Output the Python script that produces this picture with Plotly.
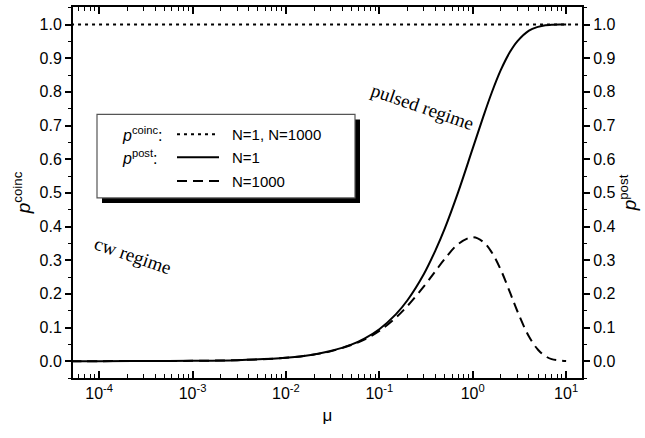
import plotly.graph_objects as go

# ---- data ----
mu = [5e-5, 1e-4, 3e-4, 1e-3, 3e-3, 1e-2, 0.02, 0.03, 0.05, 0.07, 0.1, 0.15, 0.2, 0.3,
      0.4, 0.5, 0.7, 1.0, 1.3, 1.6, 2.0, 2.5, 3.0, 4.0, 5.0, 6.0, 7.0, 8.5, 10.0]
p_post_n1 = [0.0, 0.0001, 0.0003, 0.001, 0.003, 0.010, 0.020, 0.030, 0.049, 0.068, 0.095,
             0.139, 0.181, 0.259, 0.330, 0.393, 0.503, 0.632, 0.727, 0.798, 0.865, 0.918,
             0.950, 0.982, 0.993, 0.998, 0.999, 1.0, 1.0]
p_post_n1000 = [0.0, 0.0001, 0.0003, 0.001, 0.003, 0.010, 0.020, 0.029, 0.048, 0.065, 0.090,
                0.129, 0.164, 0.222, 0.268, 0.303, 0.348, 0.368, 0.354, 0.323, 0.271, 0.205,
                0.149, 0.073, 0.034, 0.015, 0.006, 0.002, 0.0005]
coinc_mu = [5e-5, 15.0]
p_coinc = [1.0, 1.0]

x_tickvals = [1e-4, 1e-3, 1e-2, 1e-1, 1e0, 1e1]
x_ticktext = ["10<sup>-4</sup>", "10<sup>-3</sup>", "10<sup>-2</sup>",
              "10<sup>-1</sup>", "10<sup>0</sup>", "10<sup>1</sup>"]
y_tickvals = [0.0, 0.1, 0.2, 0.3, 0.4, 0.5, 0.6, 0.7, 0.8, 0.9, 1.0]
y_ticktext = ["0.0", "0.1", "0.2", "0.3", "0.4", "0.5", "0.6", "0.7", "0.8", "0.9", "1.0"]

# ---- layout geometry (pixels) ----
W, H = 645, 438
L, R, T, B = 73, 582, 5, 378

def px(x):
    return (x - L) / (R - L)

def py(y):
    return (B - y) / (B - T)

FONT = "Liberation Sans, Arial, sans-serif"
SERIF = "Liberation Serif, Times New Roman, serif"
DOT = "3px,4px"
DASH = "10px,6px"

fig = go.Figure()
fig.add_trace(go.Scatter(x=coinc_mu, y=p_coinc, mode="lines",
                         line=dict(color="black", width=2, dash=DOT), showlegend=False))
fig.add_trace(go.Scatter(x=mu, y=p_post_n1000, mode="lines", line_shape="spline",
                         line=dict(color="black", width=2, dash=DASH), showlegend=False))
fig.add_trace(go.Scatter(x=mu, y=p_post_n1, mode="lines", line_shape="spline",
                         line=dict(color="black", width=2), showlegend=False))
fig.add_trace(go.Scatter(x=coinc_mu, y=p_coinc, mode="lines", yaxis="y2",
                         line=dict(color="rgba(0,0,0,0)", width=0), showlegend=False,
                         hoverinfo="skip"))

minor_x = []
for d in [1e-5, 1e-4, 1e-3, 1e-2, 1e-1, 1e0, 1e1]:
    for k in range(2, 10):
        minor_x.append(k * d)

yrange = [-0.05, 1.052]
fig.update_layout(
    width=W, height=H,
    margin=dict(l=L, r=W - R, t=T, b=H - B),
    paper_bgcolor="white", plot_bgcolor="white",
    font=dict(family=FONT, size=16, color="black"),
    xaxis=dict(type="log", range=[-4.28, 1.17], tickvals=x_tickvals, ticktext=x_ticktext,
               ticks="inside", ticklen=7, tickwidth=1.5, tickcolor="black",
               showline=True, linecolor="black", linewidth=2, mirror="ticks",
               showgrid=False, zeroline=False,
               minor=dict(ticks="inside", ticklen=4, tickwidth=1.2, tickcolor="black",
                          tickvals=minor_x, showgrid=False),
               title=dict(text="μ", font=dict(size=17), standoff=8)),
    yaxis=dict(range=yrange, tickvals=y_tickvals, ticktext=y_ticktext,
               ticks="outside", ticklen=6, tickwidth=1.5, tickcolor="black",
               showline=True, linecolor="black", linewidth=2,
               showgrid=False, zeroline=False,
               minor=dict(ticks="outside", ticklen=3, tickwidth=1.2, tickcolor="black",
                          dtick=0.05, showgrid=False),
               title=dict(text="<i>p</i><sup>coinc</sup>", font=dict(size=19), standoff=4)),
    yaxis2=dict(range=yrange, overlaying="y", side="right",
                tickvals=y_tickvals, ticktext=y_ticktext,
                ticks="outside", ticklen=6, tickwidth=1.5, tickcolor="black",
                showline=True, linecolor="black", linewidth=2,
                showgrid=False, zeroline=False,
                minor=dict(ticks="outside", ticklen=3, tickwidth=1.2, tickcolor="black",
                           dtick=0.05, showgrid=False),
                title=dict(text="<i>p</i><sup>post</sup>", font=dict(size=19), standoff=6)),
)

# ---- custom legend box with shadow ----
bx0, by0, bx1, by1 = 97, 113, 355, 197
sh = 5
fig.add_shape(type="rect", xref="paper", yref="paper",
              x0=px(bx0 + sh), x1=px(bx1 + sh), y0=py(by1 + sh), y1=py(by0 + sh),
              fillcolor="black", line=dict(color="black", width=0), layer="above")
fig.add_shape(type="rect", xref="paper", yref="paper",
              x0=px(bx0), x1=px(bx1), y0=py(by1), y1=py(by0),
              fillcolor="white", line=dict(color="#555555", width=1.2), layer="above")

rows = [133, 156, 180]
dashes = [DOT, "solid", DASH]
labels = ["N=1, N=1000", "N=1", "N=1000"]
for yy, ds, lab in zip(rows, dashes, labels):
    fig.add_shape(type="line", xref="paper", yref="paper",
                  x0=px(177), x1=px(219), y0=py(yy), y1=py(yy),
                  line=dict(color="black", width=2, dash=ds), layer="above")
    fig.add_annotation(xref="paper", yref="paper", x=px(230), y=py(yy),
                       text=lab, showarrow=False, xanchor="left", yanchor="middle",
                       font=dict(family=FONT, size=15, color="black"))
fig.add_annotation(xref="paper", yref="paper", x=px(120), y=py(rows[0]),
                   text="<i>p</i><sup>coinc</sup>:", showarrow=False, xanchor="left",
                   yanchor="middle", font=dict(family=FONT, size=16, color="black"))
fig.add_annotation(xref="paper", yref="paper", x=px(120), y=py(rows[1]),
                   text="<i>p</i><sup>post</sup>:", showarrow=False, xanchor="left",
                   yanchor="middle", font=dict(family=FONT, size=16, color="black"))

# ---- regime labels ----
fig.add_annotation(xref="paper", yref="paper", x=px(422), y=py(105),
                   text="pulsed regime", showarrow=False, textangle=19,
                   xanchor="center", yanchor="middle",
                   font=dict(family=SERIF, size=19, color="black"))
fig.add_annotation(xref="paper", yref="paper", x=px(133), y=py(255),
                   text="cw regime", showarrow=False, textangle=19,
                   xanchor="center", yanchor="middle",
                   font=dict(family=SERIF, size=19, color="black"))

fig.write_html("out.html")
